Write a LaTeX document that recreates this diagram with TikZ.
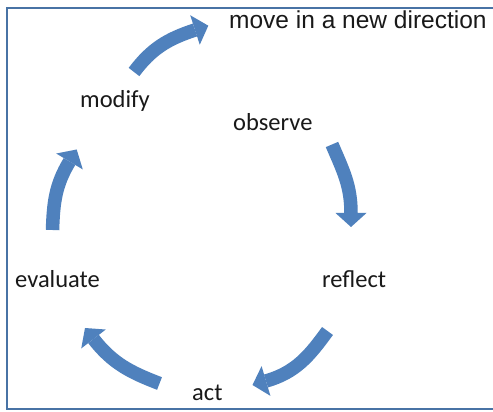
\documentclass[tikz,border=0pt]{standalone}
\usepackage{fontspec}
\setmainfont{Carlito}
\newfontfamily\arialfont{Liberation Sans}
\usetikzlibrary{calc}
\definecolor{arrowblue}{RGB}{79,129,189}
\definecolor{framecol}{RGB}{72,115,165}
\definecolor{textcol}{RGB}{25,25,25}
\tikzset{
  label/.style={anchor=base west,inner sep=0pt,text=textcol,font=\fontsize{24.5}{26}\selectfont},
  shaft/.style={draw=arrowblue,line width=13.5pt,line cap=butt},
  headfill/.style={fill=arrowblue}
}
\newcommand\blockarrow[5]{%
  \draw[shaft] (#1) to[out=#4,in=#5] (#2);
  \fill[headfill] ($(#2)!15.5pt!90:(#3)$) -- (#3) -- ($(#2)!15.5pt!-90:(#3)$) -- cycle;}
\begin{document}
\begin{tikzpicture}[x=1pt,y=1pt]
\useasboundingbox (0,0) rectangle (493,412);
\fill[white] (0,0) rectangle (493,412);
\draw[framecol,line width=2.2pt] (493,404) -- (7,404) -- (7,3) -- (493,3);

\node[label,font=\arialfont\fontsize{24.5}{26}\selectfont] (move) at (229,383.5) {move in a new direction};
\node[label] (modify) at (80,304) {modify};
\node[label] (observe) at (233,281) {observe};
\node[label] (reflect) at (322,124) {reflect};
\node[label] (evaluate) at (15,124) {evaluate};
\node[label] (act) at (192,11) {act};

\coordinate (t1) at (134,340);   \coordinate (b1) at (195,382);  \coordinate (p1) at (208.3,386.3);
\coordinate (t2) at (332,267.5); \coordinate (b2) at (351,199);  \coordinate (p2) at (351,185);
\coordinate (t3) at (327.5,81);  \coordinate (b3) at (266,31);   \coordinate (p3) at (252.5,27);
\coordinate (t4) at (159.5,28.5);\coordinate (b4) at (93.5,73);  \coordinate (p4) at (85,84);
\coordinate (t5) at (52.5,182);  \coordinate (b5) at (69.5,250.5); \coordinate (p5) at (76.7,262.5);

\blockarrow{t1}{b1}{p1}{53}{198}
\blockarrow{t2}{b2}{p2}{-67}{90}
\blockarrow{t3}{b3}{p3}{234}{16}
\blockarrow{t4}{b4}{p4}{159}{308}
\blockarrow{t5}{b5}{p5}{88}{239}
\end{tikzpicture}
\end{document}
